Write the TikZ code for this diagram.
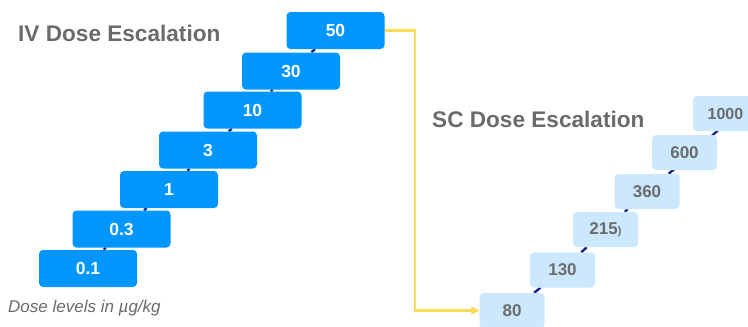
\documentclass[tikz,border=0pt]{standalone}
\usepackage{fontspec}
\setmainfont{Liberation Sans}
\usetikzlibrary{arrows.meta,backgrounds}
\definecolor{ivblue}{HTML}{0096FF}
\definecolor{scblue}{HTML}{CCE8FF}
\definecolor{navy}{HTML}{14238C}
\definecolor{txtgray}{HTML}{6B6B6B}
\definecolor{gold}{HTML}{F9DB5A}
\tikzset{
  ivbox/.style={rectangle, rounded corners=4pt, fill=ivblue, draw=none,
    minimum width=98pt, minimum height=37pt, inner sep=0pt, text=white,
    font=\fontsize{17.5}{17.5}\selectfont\bfseries},
  scbox/.style={rectangle, rounded corners=4pt, fill=scblue, draw=none,
    minimum width=65pt, minimum height=35pt, inner sep=0pt, text=txtgray,
    font=\fontsize{17}{17}\selectfont\bfseries},
  title/.style={anchor=base west, inner sep=0pt, text=txtgray,
    font=\fontsize{22.6}{22.6}\selectfont\bfseries},
  note/.style={anchor=base west, inner sep=0pt, text=txtgray,
    font=\fontsize{17}{17}\selectfont\itshape},
  stepline/.style={draw=navy, line width=2.4pt},
  handover/.style={draw=gold, line width=2.4pt, -{Triangle[length=8pt,width=8pt]}}
}
\begin{document}
\begin{tikzpicture}[x=1pt, y=-1pt]
  \clip (0,0) rectangle (748,327);

  % titles and footnote
  \node[title] (ivtitle) at (18,41) {IV Dose Escalation};
  \node[title] (sctitle) at (432,127.3) {SC Dose Escalation};
  \node[note] (units) at (8,312.5) {Dose levels in µg/kg};

  % intravenous dose steps
  \node[ivbox] (iv50)  at (335.5,30.5) {50};
  \node[ivbox] (iv30)  at (291,71)     {30};
  \node[ivbox] (iv10)  at (252.5,110)  {10};
  \node[ivbox] (iv3)   at (208,150)    {3};
  \node[ivbox] (iv1)   at (169,189.5)  {1};
  \node[ivbox] (iv03)  at (121.5,229)  {0.3};
  \node[ivbox] (iv01)  at (88,268.5)   {0.1};

  % subcutaneous dose steps
  \node[scbox] (sc1000) at (725.5,113.5) {\fontsize{16}{16}\selectfont 1000};
  \node[scbox] (sc600)  at (684.5,152.5) {600};
  \node[scbox] (sc360)  at (647,191.5)   {360};
  \node[scbox] (sc215)  at (605.5,229.5) {215{\fontsize{11}{11}\selectfont)}};
  \node[scbox] (sc130)  at (562.5,270)   {130};
  \node[scbox] (sc80)   at (512,310.5)   {80};

  % links between successive steps, kept behind the boxes
  \begin{pgfonlayer}{background}
    \fill[white] (0,0) rectangle (748,327);
    \draw[stepline] (iv01) -- (iv03) -- (iv1) -- (iv3) -- (iv10) -- (iv30) -- (iv50);
    \draw[stepline] (sc80) -- (sc130) -- (sc215) -- (sc360);
    \draw[stepline] (sc360) -- ([xshift=10pt]sc600.center);
    \draw[stepline] ([xshift=10pt]sc600.center) -- ([xshift=10pt]sc1000.center);
  \end{pgfonlayer}

  % hand-over from the top IV dose to the first SC dose
  \coordinate (turn) at (415,30.5);
  \draw[handover] (iv50.east) -- (turn) |- (sc80.west);
\end{tikzpicture}
\end{document}
